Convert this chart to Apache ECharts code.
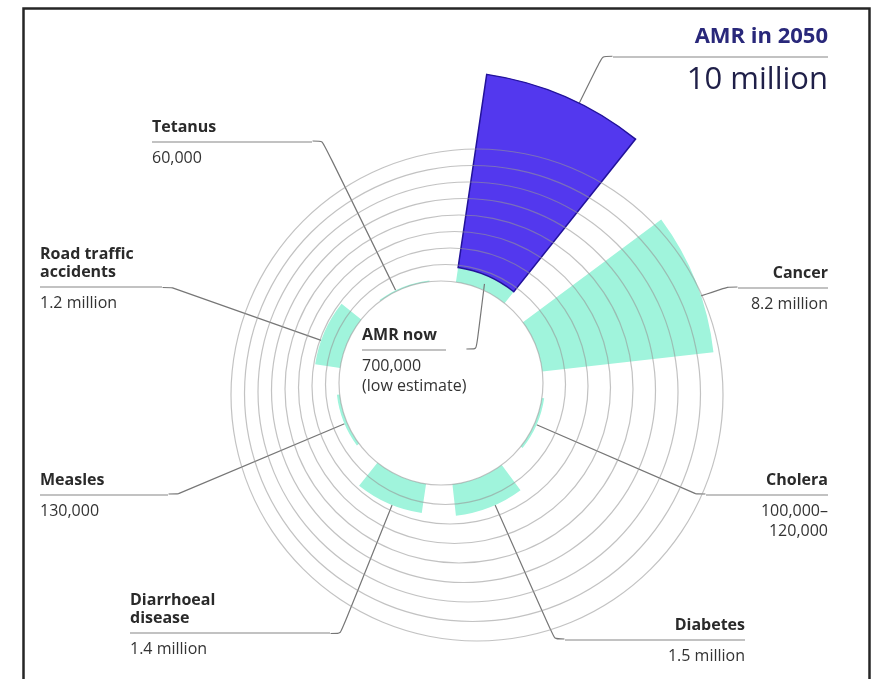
<!DOCTYPE html>
<html>
<head>
<meta charset="utf-8">
<script src="https://cdn.jsdelivr.net/npm/echarts@6/dist/echarts.min.js"></script>
<style>
html,body{margin:0;padding:0;background:#ffffff;}
#c{width:877px;height:679px;}
</style>
</head>
<body>
<div id="c"></div>
<script>
// ---------- DATA (deaths per year, millions) ----------
const categories = ['AMR', 'Cancer', 'Cholera', 'Diabetes', 'Diarrhoeal disease', 'Measles', 'Road traffic accidents', 'Tetanus'];
const deathsNow = [0.7, 8.2, 0.11, 1.5, 1.4, 0.13, 1.2, 0.06];
const amr2050 = 10;
const labelTitles = [['AMR now'], ['Cancer'], ['Cholera'], ['Diabetes'], ['Diarrhoeal', 'disease'], ['Measles'], ['Road traffic', 'accidents'], ['Tetanus']];
const labelValues = [['700,000', '(low estimate)'], ['8.2 million'], ['100,000–', '120,000'], ['1.5 million'], ['1.4 million'], ['130,000'], ['1.2 million'], ['60,000']];
const amr2050Title = ['AMR in 2050'];
const amr2050Value = ['10 million'];
const radiusMax = 10;   // radius axis max (millions)
const ringCount = 8;    // decorative background rings

// ---------- LAYOUT / STYLE ----------
const FONT = 'Open Sans';
const CENTER = [441, 383];
const INNER = 102;
const PER_MILLION = 21;
const RING = { dx: 4.5, dy: 1.5, dr: 18, width: 1.2 };   // eccentric ring drift per ring
const layoutNow = [
  { x: 362, y: 350, align: 'left',  width: 84,  l2: 10 },  // AMR now
  { x: 828, y: 288, align: 'right', width: 90,  l2: 10 },  // Cancer
  { x: 828, y: 495, align: 'right', width: 122, l2: 10 },  // Cholera
  { x: 745, y: 640, align: 'right', width: 180, l2: 10 },  // Diabetes
  { x: 130, y: 633, align: 'left',  width: 200, l2: 10 },  // Diarrhoeal
  { x: 40,  y: 495, align: 'left',  width: 128, l2: 10 },  // Measles
  { x: 40,  y: 287, align: 'left',  width: 122, l2: 10 },  // Road traffic
  { x: 152, y: 142, align: 'left',  width: 160, l2: 10 }   // Tetanus
];
const layout2050 = { x: 828, y: 57, align: 'right', width: 215, l2: 10 };

const rich = {
  t:  { fontFamily: FONT, fontWeight: 'bold', fontSize: 16, lineHeight: 18, color: '#2a2a2a' },
  v:  { fontFamily: FONT, fontSize: 16, lineHeight: 20, color: '#333333' },
  hr: { width: '100%', height: 0, lineHeight: 12, borderColor: '#858585', borderWidth: 1.1 },
  T:  { fontFamily: FONT, fontWeight: 'bold', fontSize: 22, lineHeight: 28, color: '#29287a' },
  V:  { fontFamily: FONT, fontSize: 31, lineHeight: 34, color: '#1f1f48' }
};

// builds rich label text; adds a spacer line so the rule sits at the label's vertical middle
function richText(titles, values, big) {
  const t = big ? 'T' : 't', v = big ? 'V' : 'v';
  const h = rich.hr.lineHeight / 2;
  const d = (h + values.length * rich[v].lineHeight) - (titles.length * rich[t].lineHeight + h);
  let s = titles.map(x => '{' + t + '|' + x + '}').join('\n') + '\n{hr|}\n' +
          values.map(x => '{' + v + '|' + x + '}').join('\n');
  if (d !== 0) {
    const key = 'g' + Math.abs(d);
    rich[key] = { lineHeight: Math.abs(d), height: Math.abs(d), fontSize: 1 };
    s = d > 0 ? '{' + key + '| }\n' + s : s + '\n{' + key + '| }';
  }
  return s;
}

const lineStyle = { color: '#767676', width: 1.2 };
const labelLineBase = { show: true, smooth: 0.2, lineStyle: lineStyle };

const nowData = deathsNow.map((v, i) => i === 0 ? { value: v, label: { show: false } } : ({
  value: v,
  label: { formatter: richText(labelTitles[i], labelValues[i], false), width: layoutNow[i].width },
  labelLine: { length2: layoutNow[i].l2 }
}));

const futureData = categories.map((c, i) => i === 0 ? {
  value: amr2050 - deathsNow[0],
  label: { formatter: richText(amr2050Title, amr2050Value, true), width: layout2050.width },
  labelLine: { length2: layout2050.l2 }
} : '-');

// decorative background rings (slightly eccentric, as in the original artwork):
// thin full-circle annuli drawn after the bars so they show through them
const ringSeries = [];
for (let k = 0; k <= ringCount; k++) {
  const r = INNER + RING.dr * k;
  ringSeries.push({
    name: 'ring', type: 'pie', silent: true, z: 4,
    center: [CENTER[0] + RING.dx * k, CENTER[1] + RING.dy * k],
    radius: [r - RING.width / 2, r + RING.width / 2],
    label: { show: false }, labelLine: { show: false },
    emphasis: { disabled: true },
    itemStyle: { color: 'rgba(150,150,150,0.58)', borderWidth: 0 },
    data: [{ name: 'ring', value: 1 }]
  });
}

const chart = echarts.init(document.getElementById('c'), null, { renderer: 'canvas' });
chart.setOption({
  animation: false,
  textStyle: { fontFamily: FONT },
  graphic: [{
    type: 'rect', left: 21, top: 6, silent: true,
    shape: { width: 846, height: 720 },
    style: { fill: 'none', stroke: '#262626', lineWidth: 2.5 }
  }],
  polar: { center: CENTER, radius: [INNER, INNER + radiusMax * PER_MILLION] },
  angleAxis: {
    type: 'category', data: categories, startAngle: 89, clockwise: true,
    axisLine: { show: false }, axisTick: { show: false }, axisLabel: { show: false }, splitLine: { show: false }
  },
  radiusAxis: { type: 'value', min: 0, max: radiusMax, show: false },
  series: [
    {
      name: 'Deaths per year', type: 'bar', coordinateSystem: 'polar',
      stack: 'deaths', barCategoryGap: '33%', z: 2,
      itemStyle: { color: '#a0f4dc' },
      label: { show: true, rich: rich, fontFamily: FONT },
      labelLine: labelLineBase,
      labelLayout: function (p) {
        const L = layoutNow[p.dataIndex];
        return { x: L.x, y: L.y, align: L.align, verticalAlign: 'middle' };
      },
      data: nowData
    },
    {
      name: 'AMR in 2050', type: 'bar', coordinateSystem: 'polar',
      stack: 'deaths', barCategoryGap: '33%', z: 2,
      itemStyle: { color: '#5338ee', borderColor: '#22129a', borderWidth: 1.5 },
      label: { show: true, rich: rich, fontFamily: FONT },
      labelLine: labelLineBase,
      labelLayout: function () {
        const L = layout2050;
        return { x: L.x, y: L.y, align: L.align, verticalAlign: 'middle' };
      },
      data: futureData
    },
    {
      // label anchor for "AMR now", placed in the middle of the current-AMR band
      name: 'AMR now', type: 'scatter', coordinateSystem: 'polar',
      symbolSize: 2, z: 3, itemStyle: { color: '#a0f4dc', opacity: 1 },
      label: { show: true, rich: rich, fontFamily: FONT, opacity: 1,
               formatter: richText(labelTitles[0], labelValues[0], false), width: layoutNow[0].width },
      labelLine: Object.assign({ length2: layoutNow[0].l2 }, labelLineBase),
      labelLayout: function () {
        const L = layoutNow[0];
        return { x: L.x, y: L.y, align: L.align, verticalAlign: 'middle' };
      },
      data: [[deathsNow[0] / 2, categories[0]]]
    }
  ].concat(ringSeries)
});
</script>
</body>
</html>
